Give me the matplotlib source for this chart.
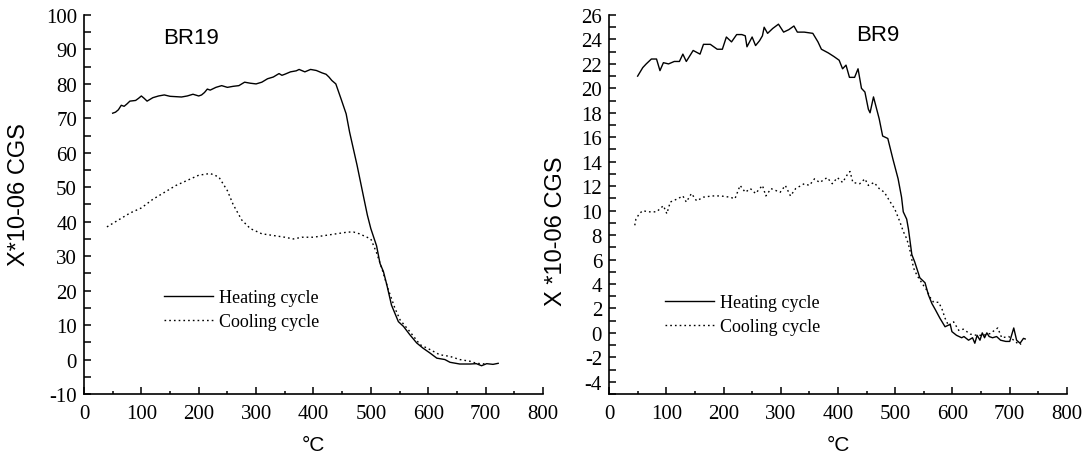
import numpy as np
import matplotlib.pyplot as plt
from matplotlib.ticker import MultipleLocator

plt.rcParams['axes.unicode_minus'] = False

# BR19 heating / cooling (temperature in degC, susceptibility x1e-6 CGS)
br19_heat_t = [50, 55, 60, 65, 70, 75, 80, 90, 95, 100, 105, 110, 120, 130, 140, 150, 160, 170,
               180, 190, 200, 205, 210, 215, 220, 230, 240, 250, 260, 270, 280, 290, 300, 310,
               320, 330, 340, 345, 350, 360, 370, 375, 385, 395, 405, 415, 422, 427, 432, 439,
               448, 457, 463, 476, 488, 494, 500, 510, 516, 522, 528, 536, 548, 557, 568, 580,
               591, 603, 615, 629, 638, 655, 673, 684, 693, 702, 713, 722]
br19_heat_y = [71.5, 71.8, 72.5, 73.8, 73.5, 74.2, 75.0, 75.2, 75.8, 76.5, 75.8, 75.0, 76.0, 76.5,
               76.8, 76.4, 76.3, 76.2, 76.5, 77.0, 76.5, 76.8, 77.5, 78.5, 78.2, 79.0, 79.5, 79.0,
               79.3, 79.5, 80.5, 80.2, 80.0, 80.5, 81.5, 82.0, 83.0, 82.5, 82.8, 83.5, 83.8, 84.2,
               83.5, 84.2, 83.9, 83.2, 82.8, 82.0, 81.0, 80.0, 75.7, 71.3, 66.0, 56.4, 46.7, 41.9,
               38.0, 33.0, 27.9, 25.5, 21.6, 15.8, 11.0, 9.6, 7.2, 4.8, 3.3, 1.9, 0.4, 0.0, -0.8,
               -1.3, -1.3, -1.2, -1.8, -1.2, -1.4, -1.1]

br19_cool_t = [40, 60, 80, 100, 120, 140, 160, 180, 200, 220, 235, 250, 260, 275, 290, 310, 330,
               350, 365, 380, 400, 420, 440, 460, 470, 480, 500, 510, 520, 530, 542, 551, 568, 577,
               586, 603, 620, 638, 655, 673, 684, 700]
br19_cool_y = [38.5, 40.5, 42.5, 44.0, 46.5, 48.5, 50.5, 52.0, 53.5, 54.0, 53.0, 49.0, 45.0, 40.5,
               38.0, 36.5, 36.0, 35.5, 35.0, 35.5, 35.5, 36.0, 36.5, 37.0, 37.0, 36.5, 35.0, 31.0,
               26.0, 20.5, 14.9, 11.5, 8.1, 6.2, 4.3, 2.9, 1.4, 0.9, 0.0, -0.5, -1.1, -1.3]

# BR9 heating / cooling
br9_heat_t = [50, 59, 65, 74, 83, 89, 95, 104, 114, 123, 129, 135, 147, 159, 165, 177, 189, 198,
              205, 214, 223, 232, 238, 241, 250, 256, 263, 268, 271, 277, 286, 296, 305, 314, 323,
              329, 341, 356, 365, 371, 383, 393, 402, 408, 414, 420, 429, 435, 441, 447, 453, 456,
              462, 472, 478, 487, 496, 505, 511, 514, 520, 523, 529, 534, 543, 552, 558, 564, 570,
              578, 587, 596, 599, 607, 616, 620, 628, 635, 639, 643, 648, 652, 656, 660, 664, 670,
              677, 684, 693, 700, 707, 712, 718, 724, 727]
br9_heat_y = [21.0, 21.7, 22.0, 22.4, 22.4, 21.45, 22.1, 22.0, 22.2, 22.2, 22.8, 22.2, 23.1, 22.8,
              23.6, 23.6, 23.2, 23.2, 24.2, 23.8, 24.4, 24.4, 24.3, 23.4, 24.2, 23.5, 23.9, 24.3,
              25.0, 24.5, 24.9, 25.25, 24.6, 24.8, 25.1, 24.6, 24.6, 24.5, 23.8, 23.2, 22.9, 22.6,
              22.3, 21.6, 21.9, 20.9, 20.9, 21.6, 20.0, 19.7, 18.3, 18.0, 19.3, 17.5, 16.1, 15.9,
              14.2, 12.6, 11.1, 9.9, 9.3, 8.5, 6.4, 5.8, 4.5, 4.1, 3.1, 2.4, 1.9, 1.2, 0.5, 0.7,
              0.1, -0.2, -0.4, -0.3, -0.6, -0.4, -0.85, -0.2, -0.6, 0.0, -0.4, 0.0, -0.3, -0.4,
              -0.3, -0.6, -0.7, -0.7, 0.4, -0.6, -0.85, -0.45, -0.5]

br9_cool_t = [45, 47, 53, 59, 68, 83, 89, 95, 101, 107, 120, 129, 135, 144, 153, 165, 180, 195,
              211, 220, 229, 238, 247, 256, 268, 274, 283, 299, 308, 317, 326, 341, 350, 359, 368,
              381, 390, 399, 408, 417, 421, 426, 438, 447, 453, 463, 472, 481, 490, 499, 508, 514,
              520, 525, 532, 538, 549, 555, 561, 567, 576, 582, 587, 593, 602, 611, 619, 631, 642,
              654, 666, 679, 686, 698, 707, 716, 720]
br9_cool_y = [8.8, 9.3, 9.75, 10.0, 9.9, 9.9, 10.15, 10.4, 9.75, 10.7, 10.97, 11.2, 10.7, 11.4,
              10.8, 11.1, 11.2, 11.2, 11.1, 10.97, 12.06, 11.5, 11.8, 11.4, 12.06, 11.2, 11.8, 11.5,
              12.06, 11.2, 11.8, 12.2, 12.06, 12.6, 12.3, 12.7, 12.2, 12.7, 12.3, 13.0, 13.2, 12.3,
              12.2, 12.6, 12.06, 12.3, 11.8, 11.5, 10.8, 10.15, 9.1, 8.3, 7.7, 6.9, 5.3, 4.7, 3.9,
              3.5, 2.9, 2.5, 2.5, 1.9, 1.2, 0.6, 0.9, 0.2, 0.3, -0.1, -0.2, -0.2, -0.05, 0.4, -0.4,
              -0.3, -0.6, -0.95, -0.9]

serif = 'Liberation Serif'
sans = 'Liberation Sans'

fig = plt.figure(figsize=(10.85, 4.56), dpi=100)
ax1 = fig.add_axes([0.0774, 0.1338, 0.4230, 0.8311])
ax2 = fig.add_axes([0.5613, 0.1338, 0.4221, 0.8311])

dotted = (0, (1.2, 2.2))


def style_axes(ax, ylim, ymajor, yminor):
    ax.set_xlim(0, 800)
    ax.set_ylim(*ylim)
    ax.xaxis.set_major_locator(MultipleLocator(100))
    ax.xaxis.set_minor_locator(MultipleLocator(50))
    ax.yaxis.set_major_locator(MultipleLocator(ymajor))
    ax.yaxis.set_minor_locator(MultipleLocator(yminor))
    for s in ['top', 'right']:
        ax.spines[s].set_visible(False)
    for s in ['left', 'bottom']:
        ax.spines[s].set_linewidth(1.2)
    ax.tick_params(which='both', direction='in', width=1.1, top=False, right=False)
    ax.tick_params(axis='x', which='major', length=5, pad=7)
    ax.tick_params(axis='x', which='minor', length=2.5)
    ax.tick_params(axis='y', which='both', length=5, pad=5)
    for lab in ax.get_xticklabels() + ax.get_yticklabels():
        lab.set_fontfamily(serif)
        lab.set_fontsize(15)
    ax.set_xlabel('°C', family=sans, fontsize=15, va='center')
    ax.xaxis.set_label_coords(0.5, -0.132)


# left panel: BR19
ax1.plot(br19_heat_t, br19_heat_y, color='black', lw=1.0, label='Heating cycle')
ax1.plot(br19_cool_t, br19_cool_y, color='black', lw=1.0, linestyle=dotted, label='Cooling cycle')
style_axes(ax1, (-10, 100), 10, 5)
ax1.set_ylabel('X*10-06 CGS', family=sans, fontsize=17, va='center')
ax1.yaxis.set_label_coords(-0.142, 0.529)
ax1.text(187, 93.6, 'BR19', family=sans, fontsize=16, ha='center', va='center')
ax1.legend(loc='upper left', bbox_to_anchor=(0.175, 0.277), frameon=False,
           prop={'family': serif, 'size': 13}, handlelength=2.7, handletextpad=0.35,
           labelspacing=0.4, borderpad=0, borderaxespad=0)

# right panel: BR9
ax2.plot(br9_heat_t, br9_heat_y, color='black', lw=1.0, label='Heating cycle')
ax2.plot(br9_cool_t, br9_cool_y, color='black', lw=1.0, linestyle=dotted, label='Cooling cycle')
style_axes(ax2, (-5, 26), 2, 1)
ax2.set_ylabel('X *10-06 CGS', family=sans, fontsize=17, va='center')
ax2.yaxis.set_label_coords(-0.116, 0.432)
ax2.text(470, 24.4, 'BR9', family=sans, fontsize=16, ha='center', va='center')
ax2.legend(loc='upper left', bbox_to_anchor=(0.1225, 0.264), frameon=False,
           prop={'family': serif, 'size': 13}, handlelength=2.7, handletextpad=0.35,
           labelspacing=0.4, borderpad=0, borderaxespad=0)

fig.savefig('out.png', dpi=100)
